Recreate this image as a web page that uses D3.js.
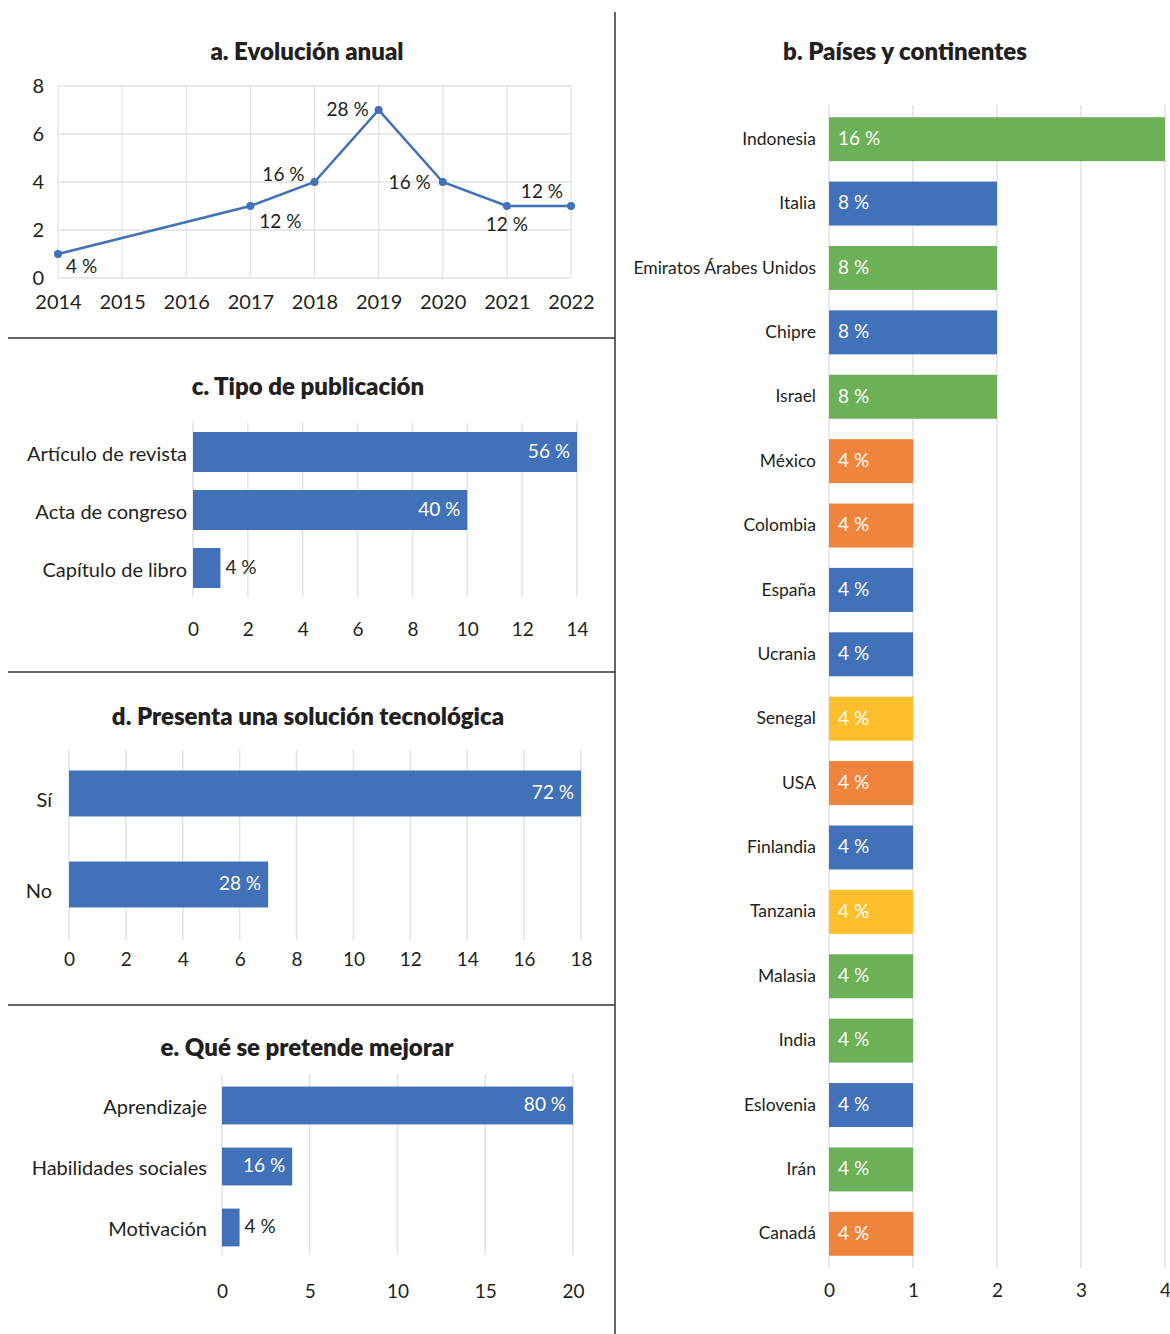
<!DOCTYPE html>
<html><head><meta charset="utf-8">
<script src="https://cdn.jsdelivr.net/npm/d3@7"></script>
<style>
body{margin:0;background:#fff;}
text{font-family:Lato,"Noto Sans",sans-serif;fill:#231f20;}
.title{font-weight:800;font-size:24px;}
</style></head>
<body><svg id="c" width="1170" height="1334"></svg>
<script>
// ---- data ----
const TOTAL = 25;
const yearLabels = ["2014","2015","2016","2017","2018","2019","2020","2021","2022"];
const yearData = [["2014",1],["2017",3],["2018",4],["2019",7],["2020",4],["2021",3],["2022",3]];
const yearTicks = [0,2,4,6,8];

const pubCats = ["Artículo de revista","Acta de congreso","Capítulo de libro"];
const pubVals = [14,10,1];
const pubTicks = [0,2,4,6,8,10,12,14];

const solCats = ["Sí","No"];
const solVals = [18,7];
const solTicks = [0,2,4,6,8,10,12,14,16,18];

const mejCats = ["Aprendizaje","Habilidades sociales","Motivación"];
const mejVals = [20,4,1];
const mejTicks = [0,5,10,15,20];

const countries = ["Indonesia","Italia","Emiratos Árabes Unidos","Chipre","Israel","México","Colombia","España","Ucrania","Senegal","USA","Finlandia","Tanzania","Malasia","India","Eslovenia","Irán","Canadá"];
const countryVals = [4,2,2,2,2,1,1,1,1,1,1,1,1,1,1,1,1,1];
const continents = ["Asia","Europa","Asia","Europa","Asia","América","América","Europa","Europa","África","América","Europa","África","Asia","Asia","Europa","Asia","América"];
const countryTicks = [0,1,2,3,4];

// ---- styles ----
const BLUE="#4171b9", GRID="#e3e3e3";
const contColor = d3.scaleOrdinal().domain(["Asia","Europa","América","África"]).range(["#6cb057","#4171b9","#f1843d","#fcbf2b"]);
const pct = v => Math.round(v/TOTAL*100) + " %";
// label offsets for panel a (layout only)
const yearLabelOff = {"2014":[8,14,"start"],"2017":[30,17,"middle"],"2018":[-10,-6,"end"],"2019":[-10,1,"end"],"2020":[-12,2,"end"],"2021":[0,20,"middle"],"2022":[-8,-13,"end"]};

const svg = d3.select("#c");

// dividers
svg.append("line").attr("x1",615).attr("x2",615).attr("y1",12).attr("y2",1334).attr("stroke","#333").attr("stroke-width",1.5);
[338,672,1005].forEach(y=>svg.append("line").attr("x1",8).attr("x2",615).attr("y1",y).attr("y2",y).attr("stroke","#333").attr("stroke-width",1.5));

function title(x,y,t){svg.append("text").attr("class","title").attr("x",x).attr("y",y).attr("text-anchor","middle").attr("dominant-baseline","middle").text(t);}

// ---- panel a ----
title(307,54,"a. Evolución anual");
{
  const x = d3.scalePoint().domain(yearLabels).range([58,571]);
  const y = d3.scaleLinear().domain([0,8]).range([278,86]);
  const g = svg.append("g");
  g.selectAll(".vg").data(yearLabels).join("line").attr("x1",d=>x(d)).attr("x2",d=>x(d)).attr("y1",86).attr("y2",278).attr("stroke",GRID).attr("stroke-width",1.3);
  g.selectAll(".hg").data(yearTicks).join("line").attr("x1",58).attr("x2",571).attr("y1",d=>y(d)).attr("y2",d=>y(d)).attr("stroke",GRID).attr("stroke-width",1.3);
  const ax = g.append("g").attr("transform","translate(0,278)").call(d3.axisBottom(x).tickSize(0).tickPadding(17));
  ax.select(".domain").remove();
  ax.selectAll("text").attr("font-size",20).attr("font-family","Lato").attr("fill","#231f20");
  const ay = g.append("g").attr("transform","translate(58,0)").call(d3.axisLeft(y).tickValues(yearTicks).tickSize(0).tickPadding(14));
  ay.select(".domain").remove();
  ay.selectAll("text").attr("font-size",20).attr("font-family","Lato").attr("fill","#231f20");
  const line = d3.line().x(d=>x(d[0])).y(d=>y(d[1]));
  g.append("path").datum(yearData).attr("d",line).attr("fill","none").attr("stroke",BLUE).attr("stroke-width",2.5);
  g.selectAll("circle").data(yearData).join("circle").attr("cx",d=>x(d[0])).attr("cy",d=>y(d[1])).attr("r",4).attr("fill",BLUE);
  g.selectAll(".lab").data(yearData).join("text").attr("font-size",19)
    .attr("x",d=>x(d[0])+yearLabelOff[d[0]][0])
    .attr("y",d=>y(d[1])+yearLabelOff[d[0]][1])
    .attr("text-anchor",d=>yearLabelOff[d[0]][2]).attr("dominant-baseline","middle")
    .text(d=>pct(d[1]));
}

// ---- generic horizontal bar panel ----
function hbar(o){
  const x = d3.scaleLinear().domain(o.domain).range(o.xr);
  const y = d3.scaleBand().domain(o.cats).range(o.yr).paddingInner(o.pi).paddingOuter(o.pi/2);
  const g = svg.append("g");
  g.selectAll(".vg").data(o.ticks).join("line").attr("x1",d=>x(d)).attr("x2",d=>x(d)).attr("y1",o.gy[0]).attr("y2",o.gy[1]).attr("stroke",GRID).attr("stroke-width",1.5);
  const ax = g.append("g").attr("transform",`translate(0,${o.gy[1]})`).call(d3.axisBottom(x).tickValues(o.ticks).tickSize(0).tickPadding(o.tickPad).tickFormat(d3.format("d")));
  ax.select(".domain").remove();
  ax.selectAll("text").attr("font-size",o.tickFs).attr("font-family","Lato").attr("fill","#231f20");
  const ay = g.append("g").attr("transform",`translate(${o.xr[0]},0)`).call(d3.axisLeft(y).tickSize(0).tickPadding(o.labPad));
  ay.select(".domain").remove();
  ay.selectAll("text").attr("font-size",o.catFs).attr("font-family","Lato").attr("fill","#231f20").attr("dy",o.catDy||"0.32em");
  const data = o.cats.map((c,i)=>({c,v:o.vals[i],i}));
  g.selectAll("rect").data(data).join("rect").attr("x",x(0)).attr("y",d=>y(d.c)).attr("width",d=>x(d.v)-x(0)).attr("height",y.bandwidth()).attr("fill",d=>o.color?o.color(d.i):BLUE);
  const t = g.selectAll(".lab").data(data).join("text").attr("font-size",o.labFs).attr("dominant-baseline","middle")
    .attr("y",d=>y(d.c)+y.bandwidth()/2+1).text(d=>pct(d.v));
  t.each(function(d){
    const w = this.getComputedTextLength(); const bw = x(d.v)-x(0);
    const s = d3.select(this);
    if(o.startInside){ s.attr("x",x(0)+9).style("fill","#fff"); }
    else if(bw > w+14){ s.attr("x",x(d.v)-7).attr("text-anchor","end").style("fill","#fff"); }
    else { s.attr("x",x(d.v)+5).attr("text-anchor","start"); }
  });
}

title(308,389,"c. Tipo de publicación");
hbar({cats:pubCats,vals:pubVals,domain:[0,14],xr:[193,577],yr:[423,597],pi:0.31,gy:[423,597],ticks:pubTicks,tickPad:26,tickFs:19,labPad:6,catFs:20,labFs:19,catDy:"0.45em"});

title(308,719,"d. Presenta una solución tecnológica");
hbar({cats:solCats,vals:solVals,domain:[0,18],xr:[69,581],yr:[748,930],pi:0.495,gy:[750,940],ticks:solTicks,tickPad:13,tickFs:19,labPad:17,catFs:20,labFs:19,catDy:"0.68em"});

title(307,1050,"e. Qué se pretende mejorar");
hbar({cats:mejCats,vals:mejVals,domain:[0,20],xr:[222,573],yr:[1075,1258],pi:0.38,gy:[1074,1255],ticks:mejTicks,tickPad:30,tickFs:19,labPad:15,catFs:20,labFs:19,catDy:"0.4em"});

title(905,54,"b. Países y continentes");
hbar({cats:countries,vals:countryVals,domain:[0,4],xr:[829,1165],yr:[107,1266],pi:0.317,gy:[105,1268],ticks:countryTicks,tickPad:16,tickFs:19,labPad:13,catFs:17.5,labFs:19,startInside:true,color:i=>contColor(continents[i])});
</script></body></html>
